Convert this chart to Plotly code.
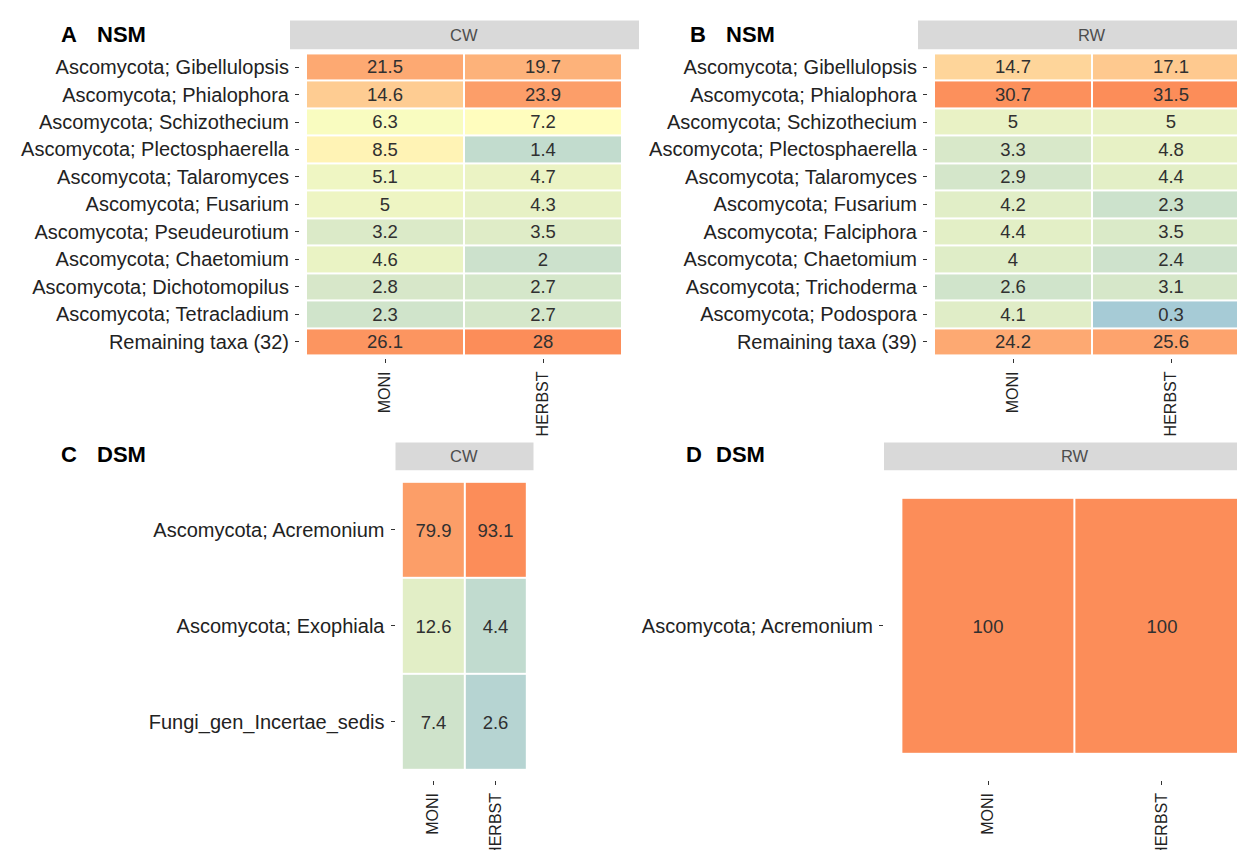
import numpy as np
import plotly.graph_objects as go

# ---------------- data ----------------
samples = ["MONI", "HERBST"]

rows_A = ["Ascomycota; Gibellulopsis", "Ascomycota; Phialophora", "Ascomycota; Schizothecium",
          "Ascomycota; Plectosphaerella", "Ascomycota; Talaromyces", "Ascomycota; Fusarium",
          "Ascomycota; Pseudeurotium", "Ascomycota; Chaetomium", "Ascomycota; Dichotomopilus",
          "Ascomycota; Tetracladium", "Remaining taxa (32)"]
moni_A = [21.5, 14.6, 6.3, 8.5, 5.1, 5, 3.2, 4.6, 2.8, 2.3, 26.1]
herbst_A = [19.7, 23.9, 7.2, 1.4, 4.7, 4.3, 3.5, 2, 2.7, 2.7, 28]

rows_B = ["Ascomycota; Gibellulopsis", "Ascomycota; Phialophora", "Ascomycota; Schizothecium",
          "Ascomycota; Plectosphaerella", "Ascomycota; Talaromyces", "Ascomycota; Fusarium",
          "Ascomycota; Falciphora", "Ascomycota; Chaetomium", "Ascomycota; Trichoderma",
          "Ascomycota; Podospora", "Remaining taxa (39)"]
moni_B = [14.7, 30.7, 5, 3.3, 2.9, 4.2, 4.4, 4, 2.6, 4.1, 24.2]
herbst_B = [17.1, 31.5, 5, 4.8, 4.4, 2.3, 3.5, 2.4, 3.1, 0.3, 25.6]

rows_C = ["Ascomycota; Acremonium", "Ascomycota; Exophiala", "Fungi_gen_Incertae_sedis"]
moni_C = [79.9, 12.6, 7.4]
herbst_C = [93.1, 4.4, 2.6]

rows_D = ["Ascomycota; Acremonium"]
moni_D = [100]
herbst_D = [100]

tags = ["A", "B", "C", "D"]
titles = ["NSM", "NSM", "DSM", "DSM"]
strips = ["CW", "RW", "CW", "RW"]

# ---------------- style ----------------
W, H = 1245, 850
FONT = "Liberation Sans, Arial, sans-serif"
colorscale = [[0.0, "#91bfdb"], [0.5, "#ffffbf"], [1.0, "#fc8d59"]]

def px(x):
    return x / W

def py(y):
    return 1 - y / H

panels = [
    dict(dx=(292, 620), rx=(-0.538, 1.538), dy=(43, 353), sx=(282, 631), sy=(12.5, 41.5),
         tag_x=51, title_x=87, title_y=27),
    dict(dx=(920, 1245), rx=(-0.538, 1.519), dy=(43, 353), sx=(910, 1245), sy=(12.5, 41.5),
         tag_x=680, title_x=716, title_y=27),
    dict(dx=(387.5, 525.5), rx=(-0.6, 1.6), dy=(468, 778), sx=(387.5, 525.5), sy=(438, 466),
         tag_x=51, title_x=87, title_y=450),
    dict(dx=(876, 1245), rx=(-0.6, 1.527), dy=(468, 778), sx=(876, 1245), sy=(438, 466),
         tag_x=676, title_x=706, title_y=450),
]

datasets = [(rows_A, moni_A, herbst_A), (rows_B, moni_B, herbst_B),
            (rows_C, moni_C, herbst_C), (rows_D, moni_D, herbst_D)]

fig = go.Figure()
layout_axes = {}
shapes = []
annotations = []

for i, ((rows, moni, herbst), p) in enumerate(zip(datasets, panels)):
    n = i + 1
    xa = "x" if n == 1 else f"x{n}"
    ya = "y" if n == 1 else f"y{n}"
    vals = np.array([moni, herbst], dtype=float).T
    zmax = np.sqrt(vals.max())
    text = [[f"{v:g}" for v in r] for r in vals]
    fig.add_trace(go.Heatmap(
        x=samples, y=rows, z=np.sqrt(vals), text=text, texttemplate="%{text}",
        textfont=dict(family=FONT, size=18.5, color="#303030"),
        colorscale=colorscale, zmin=0, zmax=zmax, showscale=False,
        xgap=2, ygap=2, xaxis=xa, yaxis=ya, hoverinfo="skip"))
    nrows = len(rows)
    layout_axes["xaxis" if n == 1 else f"xaxis{n}"] = dict(
        domain=[px(p["dx"][0]), px(p["dx"][1])], range=list(p["rx"]), type="category",
        anchor=ya, showgrid=False, zeroline=False, showline=False,
        ticks="outside", ticklen=4, tickwidth=1, tickcolor="#333333",
        tickangle=-90, tickfont=dict(family=FONT, size=16, color="#222222"),
        ticklabelstandoff=2, fixedrange=True)
    layout_axes["yaxis" if n == 1 else f"yaxis{n}"] = dict(
        domain=[py(p["dy"][1]), py(p["dy"][0])], range=[nrows - 0.4, -0.6], type="category",
        anchor=xa, showgrid=False, zeroline=False, showline=False,
        ticks="outside", ticklen=4, tickwidth=1, tickcolor="#333333",
        tickfont=dict(family=FONT, size=20, color="#222222"),
        ticklabelstandoff=2, fixedrange=True)
    # facet strip
    shapes.append(dict(type="rect", xref="paper", yref="paper",
                       x0=px(p["sx"][0]), x1=px(p["sx"][1]),
                       y0=py(p["sy"][1]), y1=py(p["sy"][0]),
                       fillcolor="#d9d9d9", line=dict(width=0), layer="below"))
    if n in (2, 4):
        cx = (p["sx"][0] + p["sx"][0] + 2.2 * (p["dx"][1] - p["dx"][0]) / (p["rx"][1] - p["rx"][0])) / 2
    else:
        cx = (p["sx"][0] + p["sx"][1]) / 2
    annotations.append(dict(xref="paper", yref="paper", x=px(cx),
                            y=py((p["sy"][0] + p["sy"][1]) / 2),
                            text=strips[i], showarrow=False, xanchor="center", yanchor="middle",
                            font=dict(family=FONT, size=16.5, color="#4d4d4d")))
    # panel tag + title
    annotations.append(dict(xref="paper", yref="paper", x=px(p["tag_x"]), y=py(p["title_y"]),
                            text=f"<b>{tags[i]}</b>", showarrow=False, xanchor="left", yanchor="middle",
                            font=dict(family=FONT, size=22, color="#000000")))
    annotations.append(dict(xref="paper", yref="paper", x=px(p["title_x"]), y=py(p["title_y"]),
                            text=f"<b>{titles[i]}</b>", showarrow=False, xanchor="left", yanchor="middle",
                            font=dict(family=FONT, size=22, color="#000000")))

fig.update_layout(
    width=W, height=H, margin=dict(l=0, r=0, t=0, b=0),
    paper_bgcolor="white", plot_bgcolor="white",
    shapes=shapes, annotations=annotations, showlegend=False,
    font=dict(family=FONT),
    **layout_axes)

fig.write_html("out.html")
